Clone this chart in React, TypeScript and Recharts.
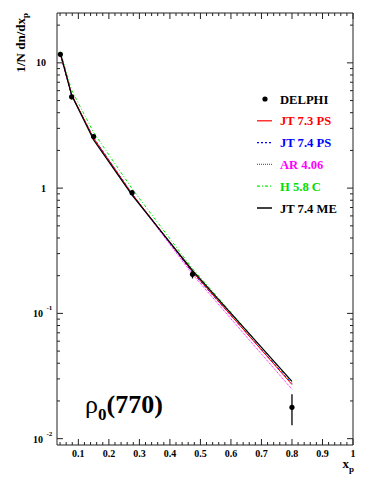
import React from "react";
import { ComposedChart, Line, Scatter, XAxis, YAxis, ErrorBar } from "recharts";

// ---- data ----
const xp = [0.041, 0.078, 0.15, 0.276, 0.474, 0.8];
const delphi = [11.7, 5.36, 2.58, 0.92, 0.205, 0.0178];
const delphiErrLow = [0.5, 0.25, 0.1, 0.04, 0.015, 0.005];
const delphiErrHigh = [0.5, 0.25, 0.1, 0.04, 0.012, 0.0048];
const jt73ps = [11.8, 5.6, 2.5, 0.9, 0.215, 0.027];
const jt74ps = [11.7, 5.5, 2.52, 0.9, 0.212, 0.0275];
const ar406 = [11.6, 5.5, 2.48, 0.89, 0.205, 0.0248];
const h58c = [12.3, 6.05, 2.78, 0.99, 0.228, 0.0283];
const jt74me = [12.0, 5.5, 2.42, 0.88, 0.22, 0.0287];

const xMajorTicks = [0.1, 0.2, 0.3, 0.4, 0.5, 0.6, 0.7, 0.8, 0.9, 1];
const xTickLabels = ["0.1", "0.2", "0.3", "0.4", "0.5", "0.6", "0.7", "0.8", "0.9", "1"];
const yMajorTicks = [0.01, 0.1, 1, 10];
const yTickMantissa = ["10", "10", "1", "10"];
const yTickExponent = ["-2", "-1", "", ""];

const legendNames = ["DELPHI", "JT 7.3 PS", "JT 7.4 PS", "AR 4.06", "H 5.8 C", "JT 7.4 ME"];

// ---- derived ----
const data = xp.map((x, i) => ({
  x,
  delphi: delphi[i],
  err: [delphiErrLow[i], delphiErrHigh[i]],
  jt73ps: jt73ps[i],
  jt74ps: jt74ps[i],
  ar406: ar406[i],
  h58c: h58c[i],
  jt74me: jt74me[i],
}));

const xAllTicks: number[] = [];
for (let k = 2; k <= 50; k++) xAllTicks.push(Math.round(k * 2) / 100);
const yAllTicks: number[] = [];
[0.01, 0.1, 1, 10].forEach((d) => {
  for (let m = 1; m <= 9; m++) {
    const v = +(d * m).toPrecision(3);
    if (v <= 25) yAllTicks.push(v);
  }
});

const isMajorX = (v: number) => xMajorTicks.some((t) => Math.abs(t - v) < 1e-6);
const isMajorY = (v: number) => yMajorTicks.some((t) => Math.abs(t - v) / t < 1e-6);

const FONT = "Liberation Serif";
const AX = "#222";

const BottomTick = (p: any) => {
  const v = p.payload.value;
  const major = isMajorX(v);
  const idx = xMajorTicks.findIndex((t) => Math.abs(t - v) < 1e-6);
  return (
    <g>
      <line x1={p.x} x2={p.x} y1={p.y} y2={p.y - (major ? 6 : 3)} stroke={AX} strokeWidth={1} />
      {major && (
        <text x={p.x} y={p.y + 12} textAnchor="middle" fontFamily={FONT} fontWeight="bold" fontSize={10} fill="#000">
          {xTickLabels[idx]}
        </text>
      )}
    </g>
  );
};
const TopTick = (p: any) => {
  const major = isMajorX(p.payload.value);
  return <line x1={p.x} x2={p.x} y1={p.y} y2={p.y + (major ? 6 : 3)} stroke={AX} strokeWidth={1} />;
};
const LeftTick = (p: any) => {
  const v = p.payload.value;
  const major = isMajorY(v);
  const idx = yMajorTicks.findIndex((t) => Math.abs(t - v) / t < 1e-6);
  return (
    <g>
      <line x1={p.x} x2={p.x + (major ? 6 : 3)} y1={p.y} y2={p.y} stroke={AX} strokeWidth={1} />
      {major && yTickExponent[idx] === "" && (
        <text x={46} y={p.y + 3.5} textAnchor="end" fontFamily={FONT} fontWeight="bold" fontSize={10} fill="#000">
          {yTickMantissa[idx]}
        </text>
      )}
      {major && yTickExponent[idx] !== "" && (
        <g>
          <text x={43} y={p.y + 4} textAnchor="end" fontFamily={FONT} fontWeight="bold" fontSize={10} fill="#000">
            {yTickMantissa[idx]}
          </text>
          <text x={46.5} y={p.y - 3} textAnchor="start" fontFamily={FONT} fontWeight="bold" fontSize={7} fill="#000">
            {yTickExponent[idx]}
          </text>
        </g>
      )}
    </g>
  );
};
const RightTick = (p: any) => {
  const major = isMajorY(p.payload.value);
  return <line x1={p.x} x2={p.x - (major ? 6 : 3)} y1={p.y} y2={p.y} stroke={AX} strokeWidth={1} />;
};

const series = [
  { key: "h58c", color: "#00ee00", dash: "3 2 1 2", width: 1 },
  { key: "ar406", color: "#ff00ff", dash: "1 1", width: 1 },
  { key: "jt74ps", color: "#0000ff", dash: "3 2", width: 1 },
  { key: "jt73ps", color: "#ff0000", dash: undefined, width: 1 },
  { key: "jt74me", color: "#000000", dash: undefined, width: 1.2 },
];

const legendStyles = [
  { color: "#000000", dash: undefined, text: "#000" },
  { color: "#ff0000", dash: undefined, text: "#ff0000" },
  { color: "#0000ff", dash: "2 2", text: "#0000ff" },
  { color: "#ff00ff", dash: "1 1", text: "#ff00ff" },
  { color: "#00ee00", dash: "3 2 1 2", text: "#00dd00" },
  { color: "#000000", dash: undefined, text: "#000" },
];

export default function App() {
  return (
    <div style={{ position: "absolute", left: 0, top: 0, width: 382, height: 494, background: "#fff" }}>
      <ComposedChart
        width={382}
        height={494}
        data={data}
        margin={{ top: 12, right: 28, bottom: 48, left: 56 }}
      >
        <XAxis
          xAxisId="b"
          type="number"
          dataKey="x"
          domain={[0.03, 1]}
          allowDataOverflow
          ticks={xAllTicks}
          interval={0}
          height={1}
          tickSize={0}
          tickMargin={0}
          tickLine={false}
          axisLine={{ stroke: AX }}
          tick={<BottomTick />}
        />
        <XAxis
          xAxisId="t"
          orientation="top"
          type="number"
          dataKey="x"
          domain={[0.03, 1]}
          allowDataOverflow
          ticks={xAllTicks}
          interval={0}
          height={1}
          tickSize={0}
          tickMargin={0}
          tickLine={false}
          axisLine={{ stroke: AX }}
          tick={<TopTick />}
        />
        <YAxis
          yAxisId="l"
          scale="log"
          type="number"
          domain={[0.0089, 25]}
          allowDataOverflow
          ticks={yAllTicks}
          interval={0}
          width={1}
          tickSize={0}
          tickMargin={0}
          tickLine={false}
          axisLine={{ stroke: AX }}
          tick={<LeftTick />}
        />
        <YAxis
          yAxisId="r"
          orientation="right"
          scale="log"
          type="number"
          domain={[0.0089, 25]}
          allowDataOverflow
          ticks={yAllTicks}
          interval={0}
          width={1}
          tickSize={0}
          tickMargin={0}
          tickLine={false}
          axisLine={{ stroke: AX }}
          tick={<RightTick />}
        />
        <Line
          xAxisId="t"
          yAxisId="r"
          dataKey="jt74me"
          stroke="none"
          dot={false}
          isAnimationActive={false}
          legendType="none"
        />
        {series.map((s) => (
          <Line
            key={s.key}
            xAxisId="b"
            yAxisId="l"
            type="linear"
            dataKey={s.key}
            stroke={s.color}
            strokeWidth={s.width}
            strokeDasharray={s.dash}
            dot={false}
            isAnimationActive={false}
          />
        ))}
        <Scatter
          xAxisId="b"
          yAxisId="l"
          dataKey="delphi"
          fill="#000"
          isAnimationActive={false}
          shape={(p: any) => <circle cx={p.cx} cy={p.cy} r={2.6} fill="#000" />}
        >
          <ErrorBar dataKey="err" direction="y" width={0} stroke="#000" strokeWidth={1.3} isAnimationActive={false} />
        </Scatter>
      </ComposedChart>
      <svg
        width={382}
        height={494}
        style={{ position: "absolute", left: 0, top: 0, pointerEvents: "none" }}
      >
        {legendNames.map((name, i) => {
          const y = 99 + i * 21.8;
          const st = legendStyles[i];
          return (
            <g key={name}>
              {i === 0 ? (
                <circle cx={265} cy={y} r={2.6} fill="#000" />
              ) : (
                <line x1={257} x2={272} y1={y} y2={y} stroke={st.color} strokeWidth={i === 5 ? 1.5 : 1.2} strokeDasharray={st.dash} />
              )}
              <text x={280} y={y + 4.5} fontFamily={FONT} fontWeight="bold" fontSize={12.6} fill={st.text}>
                {name}
              </text>
            </g>
          );
        })}
        <text
          transform="translate(25,13) rotate(-90)"
          textAnchor="end"
          fontFamily={FONT}
          fontWeight="bold"
          fontSize={13}
          fill="#000"
        >
          1/N dn/dx
          <tspan dy={3} fontSize={9}>p</tspan>
        </text>
        <text x={342.5} y={468} fontFamily={FONT} fontWeight="bold" fontSize={13} fill="#000">
          x
          <tspan dy={4} fontSize={9}>p</tspan>
        </text>
        <text x={85} y={413} fontFamily={FONT} fontWeight="bold" fontSize={26} fill="#000">
          <tspan fontWeight="normal">ρ</tspan>
          <tspan dy={7} fontSize={17}>0</tspan>
          <tspan dy={-7}>(770)</tspan>
        </text>
      </svg>
    </div>
  );
}
